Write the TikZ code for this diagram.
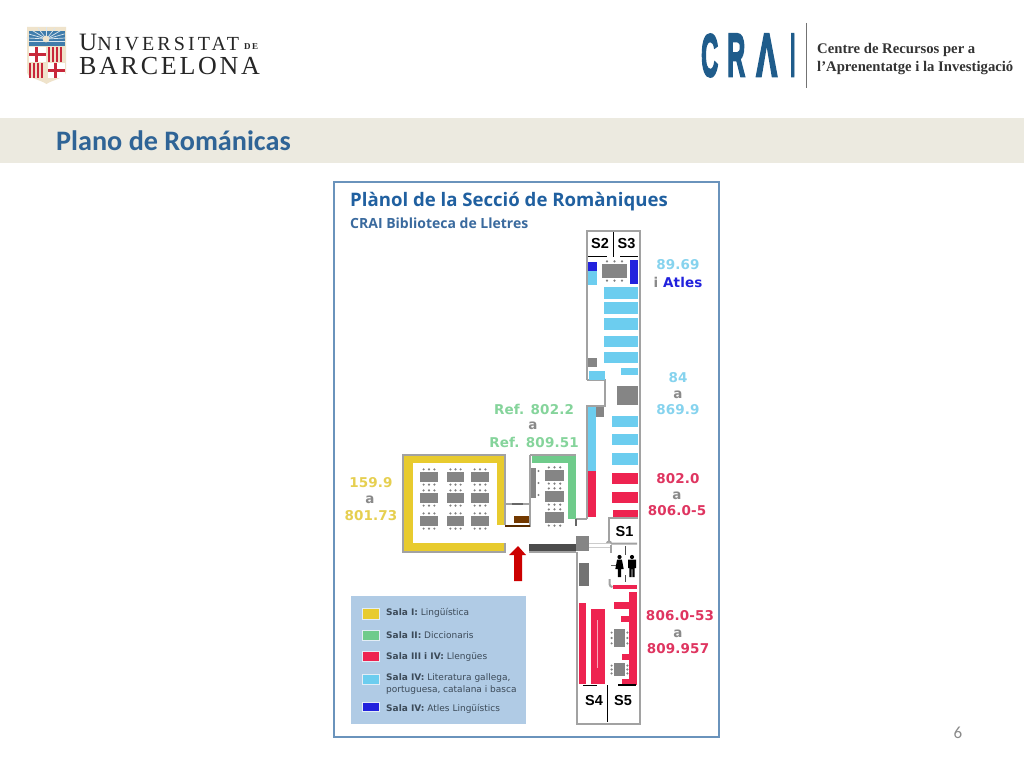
\documentclass[tikz,border=0pt]{standalone}
\usepackage{fontspec}
\usepackage{graphicx}
\setmainfont{Liberation Serif}
\newfontfamily\verd{DejaVu Sans}
\newfontfamily\verdsp[LetterSpace=1]{DejaVu Sans}
\newfontfamily\cali{Carlito}
\newfontfamily\opensans{Open Sans}
\newfontfamily\libsans{Liberation Sans}
\newfontfamily\craif[FakeBold=4]{Liberation Sans}
\newfontfamily\ubfont[LetterSpace=15.5]{Liberation Serif}
\newfontfamily\ubfontb[LetterSpace=10.5]{Liberation Serif}
\definecolor{cyel}{HTML}{E8CB2E}
\definecolor{cgrn}{HTML}{6FCB8B}
\definecolor{cred}{HTML}{EE2350}
\definecolor{clbl}{HTML}{6CCDEF}
\definecolor{cblu}{HTML}{2222DD}
\definecolor{cwall}{HTML}{A2A2A2}
\definecolor{ctbl}{HTML}{858585}
\definecolor{lyel}{HTML}{E6CF50}
\definecolor{lgrn}{HTML}{85D49B}
\definecolor{lred}{HTML}{DF3560}
\definecolor{llbl}{HTML}{86D3EE}
\definecolor{lgry}{HTML}{8A8A8A}
\definecolor{band}{HTML}{ECEAE0}
\definecolor{ttl}{HTML}{2F6496}
\definecolor{crai}{HTML}{1F5C8B}
\definecolor{ublue}{HTML}{3F7CAB}
\definecolor{ured}{HTML}{C8283A}
\definecolor{ucream}{HTML}{EFE3CB}
\definecolor{legbg}{HTML}{B0CBE5}
\definecolor{pborder}{HTML}{6A93BC}
\definecolor{ptitlec}{HTML}{2060A0}
\definecolor{psubc}{HTML}{3A6A9E}
\definecolor{legtc}{HTML}{3C4A58}
\tikzset{
 x=1pt,y=-1pt,
 wall/.style={draw=cwall,line width=2pt},
 maplab/.style={font=\verdsp\bfseries\fontsize{13.5}{14}\selectfont,inner sep=0pt,anchor=center},
 roomlab/.style={font=\libsans\bfseries\fontsize{14.5}{15}\selectfont,inner sep=0pt,anchor=center},
 legtxt/.style={font=\verd\fontsize{9}{12}\selectfont,text=legtc,inner sep=0pt,anchor=west,align=left},
 swatch/.style={draw=white!65!legbg,line width=1pt},
}
\newcommand{\bx}[5]{\fill[#1] (#2,#3) rectangle (#4,#5);}
\newcommand{\tbl}[4]{%
 \fill[ctbl] (#1,#2) rectangle (#3,#4);
 \foreach \f in {0.2,0.5,0.8}{
  \fill[black!50] ({#1+\f*(#3-#1)},{#2-2.6}) circle (1.2);
  \fill[black!50] ({#1+\f*(#3-#1)},{#4+2.6}) circle (1.2);
 }}
\newcommand{\tblv}[4]{%
 \fill[ctbl] (#1,#2) rectangle (#3,#4);
 \foreach \f in {0.2,0.5,0.8}{
  \fill[black!50] ({#1-2.4},{#2+\f*(#4-#2)}) circle (1.2);
  \fill[black!50] ({#3+2.4},{#2+\f*(#4-#2)}) circle (1.2);
 }}
\newcommand{\personm}[2]{%
 \fill[black] (#1,#2-9) circle (2.1);
 \fill[black] (#1-4,#2-6.5) -- (#1+4,#2-6.5) -- (#1+4,#2+2) -- (#1+2.6,#2+2) -- (#1+2.6,#2+11) -- (#1+.3,#2+11) -- (#1+.3,#2+3) -- (#1-.3,#2+3) -- (#1-.3,#2+11) -- (#1-2.6,#2+11) -- (#1-2.6,#2+2) -- (#1-4,#2+2) -- cycle;}
\newcommand{\personf}[2]{%
 \fill[black] (#1,#2-9) circle (2.1);
 \fill[black] (#1-2.4,#2-6.5) -- (#1+2.4,#2-6.5) -- (#1+4.2,#2+3) -- (#1+1.6,#2+3) -- (#1+1.6,#2+11) -- (#1-1.6,#2+11) -- (#1-1.6,#2+3) -- (#1-4.2,#2+3) -- cycle;}
\begin{document}
\begin{tikzpicture}
\useasboundingbox (0,0) rectangle (1024,768);
\fill[white] (0,0) rectangle (1024,768);
%% header band
\fill[band] (0,118) rectangle (1024,163);
\node[anchor=west,inner sep=0pt,text=ttl,font=\cali\bfseries\fontsize{28.2}{29}\selectfont] (slidetitle) at (56,141) {Plano de Románicas};
\node[inner sep=0pt,text=lgry,font=\cali\fontsize{17}{18}\selectfont] (pagenum) at (958,733) {6};
%% UB shield
\fill[ucream] (27,27) -- (66,27) -- (66,72) .. controls (66,78) and (52,80) .. (46.5,84) .. controls (41,80) and (27,78) .. (27,72) -- cycle;
\fill[ublue] (28.5,31) rectangle (64.5,46);
\foreach \a in {5,25,45,65,90,115,135,155,175}{\draw[white!80!ublue,line width=.7pt] (46.5,39) -- ++({20*cos(\a)},{-12*sin(\a)});}
\draw[white!80!ublue,line width=.7pt] (28.5,41) -- (64.5,41);
\fill[ucream] (46,39) circle (3.4);
\fill[white] (28.5,47.5) rectangle (45.5,62);
\fill[ured] (35,47.5) rectangle (38,62); \fill[ured] (28.5,53.5) rectangle (45.5,56);
\fill[white] (47.5,63) rectangle (64.5,78);
\fill[ured] (54,63) rectangle (57,78); \fill[ured] (47.5,69) rectangle (64.5,71.5);
\fill[ucream] (47.5,47.5) rectangle (63,62);
\foreach \x in {47.5,51.5,55.5,59.5}{\fill[ured] (\x,47.5) rectangle ++(2,14.5);}
\fill[ucream] (29,63) rectangle (45.5,78);
\foreach \x in {29,33,37,41}{\fill[ured] (\x,63) rectangle ++(2,15);}
%% UB text
\node[anchor=base west,inner sep=0pt,text=black!85,font=\ubfont\fontsize{25}{25}\selectfont] (ub1) at (79,50) {U\fontsize{20}{20}\selectfont NIVERSITAT};
\node[anchor=base west,inner sep=0pt,text=black!85,font=\fontsize{9}{9}\selectfont\bfseries] (ub2) at (244,49) {D\,E};
\node[anchor=base west,inner sep=0pt,text=black!85,font=\ubfontb\fontsize{26}{26}\selectfont] (ub3) at (79,74.5) {BARCELONA};
%% CRAI logo
\node[anchor=north west,inner sep=0pt,text=crai] (cr1) at (701,34) {\resizebox{17pt}{42pt}{\craif\bfseries C}};
\node[anchor=north west,inner sep=0pt,text=crai] (cr2) at (727,34) {\resizebox{18pt}{42pt}{\craif\bfseries R}};
\node[anchor=north west,inner sep=0pt,text=crai] (cr3) at (756,34) {\resizebox{21pt}{42pt}{\craif\bfseries Λ}};
\node[anchor=north west,inner sep=0pt,text=crai] (cr4) at (790,34) {\resizebox{5pt}{42pt}{\craif\bfseries I}};
\draw[black!55,line width=.8pt] (806,23) -- (806,88);
\node[anchor=base west,inner sep=0pt,text=black!80,font=\bfseries\fontsize{14.7}{15}\selectfont] (cr5) at (817,53) {Centre de Recursos per a};
\node[anchor=base west,inner sep=0pt,text=black!80,font=\bfseries\fontsize{14.7}{15}\selectfont] (cr6) at (817,71) {l’Aprenentatge i la Investigació};
%% panel
\draw[draw=pborder,line width=1.2pt] (334,182) rectangle (719,737);
\node[anchor=west,inner sep=0pt,text=ptitlec,font=\opensans\bfseries\fontsize{18.6}{19}\selectfont] (ptitle) at (350,201.5) {Plànol de la Secció de Romàniques};
\node[anchor=west,inner sep=0pt,text=psubc,font=\opensans\bfseries\fontsize{14}{15}\selectfont] (psub) at (350,223.5) {CRAI Biblioteca de Lletres};
%% Sala I
\fill[cyel] (403,455) rectangle (505,552);
\fill[white] (413,463) rectangle (497,543);
\fill[white] (497,525) rectangle (505,543);
\draw[wall,line width=1.6pt] (505,543) -- (505,552) -- (403,552) -- (403,455) -- (505,455) -- (505,525);
\tbl{420}{472}{438}{482}\tbl{447}{472}{464}{482}\tbl{471}{472}{489}{482}
\tbl{420}{493}{438}{503}\tbl{447}{493}{464}{503}\tbl{471}{493}{489}{503}
\tbl{420}{516}{438}{526}\tbl{447}{516}{464}{526}\tbl{471}{516}{489}{526}
%% closet between I and II
\draw[wall] (505,504) -- (530,504);
\draw[black!60,line width=1.6pt] (512,504) -- (523,504);
\draw[wall] (530,455) -- (530,527);
\draw[orange!35!black,line width=1.2pt] (505,526) -- (530,526);
\fill[orange!45!black] (514,516) rectangle (529,523);
%% Sala II
\draw[wall] (530,455) -- (576,455);
\fill[cgrn] (532,456) rectangle (576,463);
\fill[cgrn] (568,456) rectangle (576,519);
\fill[ctbl] (531,468) rectangle (536,498);
\foreach \y in {471,483,495}{\fill[black!50] (538.5,\y) circle (1.2);}
\tbl{545}{470}{564}{481}\tbl{545}{491}{564}{502}\tbl{545}{512}{564}{523}
\draw[wall] (576,519) -- (587,519);
\draw[black!60,line width=1.4pt] (576,519) -- (576,526);
%% right wing: walls
\draw[wall] (587,380) -- (587,231) -- (640,231) -- (640,724) -- (577,724) -- (577,552);
\draw[wall] (587,380) -- (604.5,380) -- (604.5,405.5) -- (587,405.5) -- (587,519);
\draw[black,line width=.9pt] (613,232) -- (613,257);
\draw[black,line width=.9pt] (588,256.5) -- (607,256.5);
\draw[black,line width=1.4pt] (620,256.5) -- (638,256.5);
%% upper shelves
\bx{cblu}{588}{262}{597}{271}
\bx{clbl}{588}{271}{597}{285}
\bx{cblu}{630}{260}{637.5}{284}
\tbl{602}{264}{627}{278}
\foreach \a/\b in {287/299,302/314,318/330,336/347,352/363}{\bx{clbl}{604}{\a}{637.5}{\b}}
\bx{clbl}{621}{368}{637.5}{375}
\bx{clbl}{589}{371}{605}{380}
\fill[ctbl] (588,358) rectangle (597,367);
\fill[ctbl] (617,385.5) rectangle (637.5,405);
\fill[ctbl] (596,406.5) rectangle (604,417);
\foreach \a/\b in {416/427,434/445,453/465}{\bx{clbl}{612}{\a}{637.5}{\b}}
\foreach \a/\b in {473/484,492/503}{\bx{cred}{612}{\a}{637.5}{\b}}
\bx{cred}{613}{510}{637.5}{517}
\bx{clbl}{588}{406.5}{596}{470.5}
\bx{cred}{588}{470.5}{596}{517}
%% S1
\draw[wall] (609,541) -- (609,517.5) -- (638,517.5);
\node[roomlab] (s1) at (624.5,532) {S1};
\node[roomlab] (s2) at (600,244) {S2};
\node[roomlab] (s3) at (626.5,244) {S3};
%% toilets
\draw[wall] (611,543.5) arc (0:-180:2) (611,543.5) -- (637,543.5);
\draw[wall] (611,545) -- (611,553);
\draw[wall] (609.5,579) -- (609.5,584) arc (180:90:3);
\draw[black!70,line width=.8pt] (625.5,546) -- (625.5,555) (625.5,575) -- (625.5,582);
\draw[black!60,line width=.8pt] (611,565) -- (616,565);
\personf{619.5}{566}\personm{632}{566}
\bx{cred}{613}{585}{636.5}{589}
%% lower shelves
\bx{cred}{629}{592}{636.5}{685}
\bx{cred}{614}{602}{629}{609}
\bx{cred}{621}{616}{629}{622}
\bx{cred}{622}{654}{629}{660}
\bx{cred}{622}{679}{629}{685}
\tblv{614}{629}{625}{647}
\tblv{614}{663}{625}{676}
\bx{cred}{579}{603}{586}{684}
\bx{cred}{591}{609}{605}{684}
\draw[white!60!cred,line width=.8pt] (597,620) -- (597,668);
\draw[black,line width=1pt] (583,685) -- (597,685);
\draw[black,line width=1.6pt] (618,685) -- (636,685);
\draw[black,line width=.9pt] (607.5,685) -- (607.5,722);
\node[roomlab] (s4) at (594,700.5) {S4};
\node[roomlab] (s5) at (623,700.5) {S5};
\fill[black!55] (579,563) rectangle (589,586);
%% lobby
\fill[black!70] (529,544) rectangle (576,551);
\draw[wall] (529,552) -- (576,552);
\fill[ctbl] (576,536) rectangle (589,551);
\draw[black!20,line width=.6pt] (589,543) -- (610,543) (589,547) -- (610,547);
%% entry arrow
\fill[red!80!black] (518,546) -- (526,555) -- (522,555) -- (522,581) -- (514,581) -- (514,555) -- (509,555) -- cycle;
%% map labels
\node[maplab,text=llbl] (l1a) at (678,265) {89.69};
\node[maplab,anchor=center] (l1b) at (678,282) {\textcolor{lgry}{i} \textcolor{cblu}{Atles}};
\node[maplab,text=llbl] (l2a) at (678,378) {84};
\node[maplab,text=lgry] (l2b) at (678,395) {a};
\node[maplab,text=llbl] (l2c) at (678,410) {869.9};
\node[maplab,text=lgrn] (l3a) at (534,409) {Ref. 802.2};
\node[maplab,text=lgry] (l3b) at (533,426) {a};
\node[maplab,text=lgrn] (l3c) at (534,442) {Ref. 809.51};
\node[maplab,text=lyel] (l4a) at (371,483) {159.9};
\node[maplab,text=lgry] (l4b) at (370,500) {a};
\node[maplab,text=lyel] (l4c) at (371,516) {801.73};
\node[maplab,text=lred] (l5a) at (678,479) {802.0};
\node[maplab,text=lgry] (l5b) at (677,496) {a};
\node[maplab,text=lred] (l5c) at (677,511) {806.0-5};
\node[maplab,text=lred] (l6a) at (680,616) {806.0-53};
\node[maplab,text=lgry] (l6b) at (678,634) {a};
\node[maplab,text=lred] (l6c) at (678,649) {809.957};
%% legend
\fill[legbg] (351,596) rectangle (526,724);
\fill[cyel,swatch] (362,608.5) rectangle (379,619);
\fill[cgrn,swatch] (362,630) rectangle (379,640);
\fill[cred,swatch] (362,651) rectangle (379,661);
\fill[clbl,swatch] (362,674) rectangle (379,684);
\fill[cblu,swatch] (362,702) rectangle (379,711);
\node[legtxt] (t1) at (386,612.5) {\textbf{Sala I:} Lingüística};
\node[legtxt] (t2) at (386,635) {\textbf{Sala II:} Diccionaris};
\node[legtxt] (t3) at (386,657) {\textbf{Sala III i IV:} Llengües};
\node[legtxt] (t4) at (386,684) {\textbf{Sala IV:} Literatura gallega,\\portuguesa, catalana i basca};
\node[legtxt] (t5) at (386,709) {\textbf{Sala IV:} Atles Lingüístics};
\end{tikzpicture}
\end{document}
